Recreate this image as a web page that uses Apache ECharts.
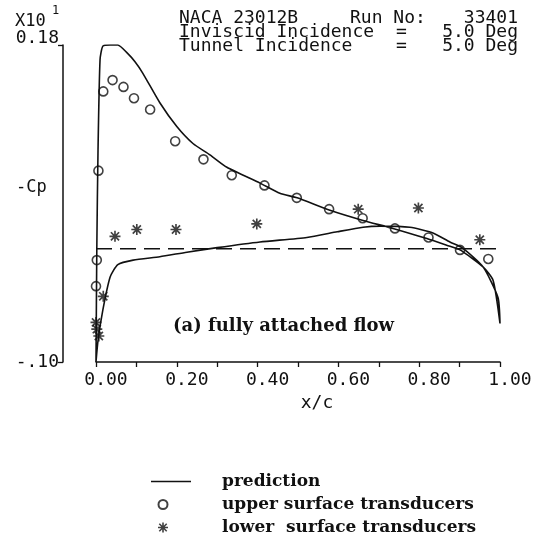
<!DOCTYPE html>
<html>
<head>
<meta charset="utf-8">
<script src="https://cdn.jsdelivr.net/npm/echarts@6/dist/echarts.min.js"></script>
<style>
  html, body { margin: 0; padding: 0; background: #fff; }
  #chart { width: 535px; height: 539px; }
</style>
</head>
<body>
<div id="chart"></div>
<script>
// NACA 23012B, run 33401: pressure distribution (-Cp, x10) against chord position x/c

// Prediction, lower surface: trailing edge -> leading edge
const predLowerX = [1.0, 0.995, 0.958, 0.906, 0.876, 0.834, 0.777, 0.703, 0.661, 0.597, 0.522, 0.406, 0.300, 0.225, 0.158, 0.092, 0.054, 0.035, 0.017, 0.005, 0.0];
const predLowerY = [-0.066, -0.043, -0.016, 0.001, 0.006, 0.014, 0.019, 0.020, 0.019, 0.015, 0.010, 0.006, 0.001, -0.003, -0.007, -0.010, -0.014, -0.025, -0.054, -0.081, -0.100];

// Prediction, upper surface: leading edge -> trailing edge
const predUpperX = [0.0, 0.002, 0.005, 0.010, 0.017, 0.035, 0.054, 0.077, 0.097, 0.116, 0.158, 0.200, 0.240, 0.282, 0.324, 0.406, 0.455, 0.498, 0.579, 0.661, 0.735, 0.819, 0.869, 0.901, 0.958, 0.983, 1.0];
const predUpperY = [-0.100, 0.000, 0.087, 0.167, 0.179, 0.180, 0.180, 0.173, 0.165, 0.155, 0.129, 0.108, 0.093, 0.083, 0.072, 0.058, 0.049, 0.045, 0.034, 0.025, 0.018, 0.009, 0.003, -0.001, -0.016, -0.028, -0.066];

// Upper surface transducers
const upperX = [0.0, 0.002, 0.006, 0.018, 0.041, 0.068, 0.094, 0.134, 0.196, 0.266, 0.336, 0.417, 0.497, 0.577, 0.660, 0.740, 0.823, 0.901, 0.971];
const upperY = [-0.033, -0.010, 0.069, 0.139, 0.149, 0.143, 0.133, 0.123, 0.095, 0.079, 0.065, 0.056, 0.045, 0.035, 0.027, 0.018, 0.010, -0.001, -0.009];

// Lower surface transducers
const lowerX = [0.0, 0.002, 0.007, 0.018, 0.047, 0.101, 0.198, 0.398, 0.649, 0.798, 0.950];
const lowerY = [-0.065, -0.071, -0.077, -0.042, 0.011, 0.017, 0.017, 0.022, 0.035, 0.036, 0.008];

// Zero reference line
const zeroX = [0.0, 1.0];
const zeroY = [0.0, 0.0];

// Axis ranges and labelled ticks
const xMin = 0, xMax = 1, xStep = 0.1;
const yTickValues = [-0.10, 0.18];
const yTickLabels = ['-.10', '0.18'];

const zip = (xs, ys) => xs.map((x, i) => [x, ys[i]]);
const predData = zip(predLowerX, predLowerY).concat(zip(predUpperX, predUpperY));

// Plotter-style asterisk (8 arms)
const ASTERISK = 'path://M8.5 0H11.5V20H8.5Z M0 8.5H20V11.5H0Z M1.5 3.7L3.7 1.5L18.5 16.3L16.3 18.5Z M16.3 1.5L18.5 3.7L3.7 18.5L1.5 16.3Z';
// Legend keys: the glyph sits at the left of a 40x10 box so it lines up under the line key
const KEY_BOX = ' M0 0L0 0 M40 10L40 10';
const KEY_LINE = 'path://M0 4.2H40V5.8H0Z';
const KEY_CIRCLE = 'path://M16.5 5A4.5 4.5 0 1 1 7.5 5A4.5 4.5 0 1 1 16.5 5Z' + KEY_BOX;
const KEY_ASTERISK = 'path://M11.2 0H12.8V10H11.2Z M7 4.2H17V5.8H7Z M7.75 1.85L8.85 0.75L16.25 8.15L15.15 9.25Z M15.15 0.75L16.25 1.85L8.85 9.25L7.75 8.15Z' + KEY_BOX;

const MONO = 'DejaVu Sans Mono';
const INK = '#111';
const HEAD = '18px ' + MONO;

const chart = echarts.init(document.getElementById('chart'), null, { renderer: 'canvas' });

chart.setOption({
  backgroundColor: '#fff',
  animation: false,
  grid: { left: 96, right: 35, top: 45, bottom: 177, containLabel: false },
  xAxis: {
    type: 'value', min: xMin, max: xMax, interval: xStep,
    name: 'x/c', nameLocation: 'middle', nameGap: 20,
    nameTextStyle: { fontFamily: MONO, fontSize: 18, color: INK, padding: [0, 0, 0, 38] },
    axisLine: { show: true, onZero: false, lineStyle: { color: INK, width: 1.5 } },
    axisTick: { show: true, inside: false, length: 5, lineStyle: { color: INK, width: 1.3 } },
    axisLabel: {
      fontFamily: MONO, fontSize: 18, color: INK, margin: 9, padding: [0, 0, 0, 20],
      formatter: v => (Math.round(v * 10) % 2 === 0 ? v.toFixed(2) : '')
    },
    splitLine: { show: false }
  },
  yAxis: {
    type: 'value', min: yTickValues[0], max: yTickValues[1], offset: 33,
    axisLine: { show: true, onZero: false, lineStyle: { color: INK, width: 1.5 } },
    axisTick: { show: true, inside: false, length: 5, customValues: yTickValues, lineStyle: { color: INK, width: 1.3 } },
    axisLabel: {
      fontFamily: MONO, fontSize: 18, color: INK, margin: 4, customValues: yTickValues,
      formatter: v => {
        const i = yTickValues.findIndex(t => Math.abs(t - v) < 1e-6);
        return v > 0 ? '{top|' + yTickLabels[i] + '}' : yTickLabels[i];
      },
      rich: { top: { fontFamily: MONO, fontSize: 18, color: INK, padding: [0, 0, 14, 0] } }
    },
    splitLine: { show: false }
  },
  legend: {
    orient: 'vertical', left: 150, top: 473, padding: 0,
    itemWidth: 40, itemHeight: 10, itemGap: 6,
    textStyle: { fontFamily: 'DejaVu Serif', fontWeight: 'bold', fontSize: 17, color: INK, padding: [0, 0, 0, 26] },
    data: [
      { name: 'prediction', icon: KEY_LINE, itemStyle: { color: INK } },
      { name: 'upper surface transducers', icon: KEY_CIRCLE },
      { name: 'lower  surface transducers', icon: KEY_ASTERISK }
    ],
    selectedMode: false
  },
  series: [
    {
      name: 'zero', type: 'line', data: zip(zeroX, zeroY), symbol: 'none', silent: true,
      lineStyle: { color: INK, width: 1.4, type: [16, 8] }, z: 1
    },
    {
      name: 'prediction', type: 'line', data: predData, symbol: 'none', showSymbol: false, smooth: 0.2,
      lineStyle: { color: INK, width: 1.6 }, itemStyle: { color: INK }, z: 3
    },
    {
      name: 'upper surface transducers', type: 'scatter', data: zip(upperX, upperY),
      symbol: 'circle', symbolSize: 9,
      itemStyle: { color: 'rgba(255,255,255,0)', borderColor: INK, borderWidth: 1.6 }, z: 4
    },
    {
      name: 'lower  surface transducers', type: 'scatter', data: zip(lowerX, lowerY),
      symbol: ASTERISK, symbolSize: 11,
      itemStyle: { color: INK }, z: 4
    }
  ],
  graphic: [
    { type: 'text', left: 15, top: 13, style: { text: 'X10', font: '17px ' + MONO, fill: INK } },
    { type: 'text', left: 52, top: 5, style: { text: '1', font: '12px ' + MONO, fill: INK } },
    { type: 'text', left: 16, top: 179, style: { text: '-Cp', font: '17px ' + MONO, fill: INK } },
    // run header
    { type: 'text', left: 179, top: 9, style: { text: 'NACA 23012B', font: HEAD, fill: INK } },
    { type: 'text', left: 350, top: 9, style: { text: 'Run No:', font: HEAD, fill: INK } },
    { type: 'text', right: 17, top: 9, style: { text: '33401', font: HEAD, fill: INK } },
    { type: 'text', left: 179, top: 23, style: { text: 'Inviscid Incidence', font: HEAD, fill: INK } },
    { type: 'text', left: 396, top: 23, style: { text: '=', font: HEAD, fill: INK } },
    { type: 'text', right: 17, top: 23, style: { text: '5.0 Deg', font: HEAD, fill: INK } },
    { type: 'text', left: 179, top: 37, style: { text: 'Tunnel Incidence', font: HEAD, fill: INK } },
    { type: 'text', left: 396, top: 37, style: { text: '=', font: HEAD, fill: INK } },
    { type: 'text', right: 17, top: 37, style: { text: '5.0 Deg', font: HEAD, fill: INK } },
    { type: 'text', left: 173, top: 317, style: { text: '(a) fully attached flow', font: 'bold 18px "DejaVu Serif"', fill: INK } }
  ]
});
</script>
</body>
</html>
